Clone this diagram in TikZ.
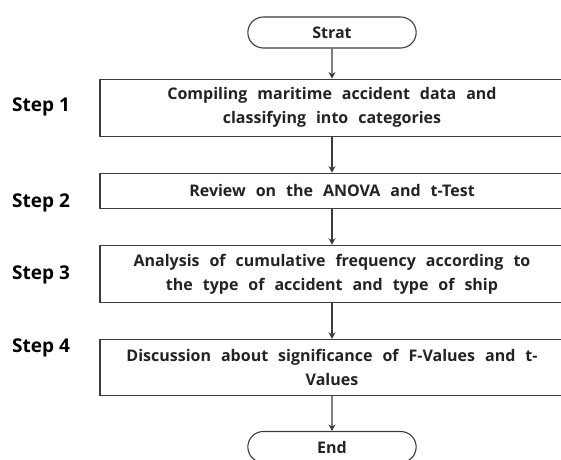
\documentclass[tikz,border=0pt]{standalone}
\usepackage{fontspec}
\setmainfont{Open Sans}
\newfontfamily\boxfont{Open Sans}[WordSpace=2.4]
\usepackage{tikz}
\usetikzlibrary{shapes.geometric, shapes.misc, arrows.meta, positioning, calc}
\definecolor{linegray}{RGB}{60,60,60}
\definecolor{textdark}{RGB}{35,35,35}
\tikzset{
    block/.style={rectangle, draw=linegray, line width=1.1pt, fill=white,
                  text centered, align=center, minimum height=35pt,
                  minimum width=464pt, inner sep=0pt, text=textdark,
                  font=\boxfont\fontsize{16}{24}\selectfont\bfseries},
    tallblock/.style={block, minimum height=57pt},
    arrow/.style={-{Stealth[length=6.5pt,width=7pt]}, line width=1.1pt, color=linegray},
    startend/.style={rounded rectangle, draw=linegray, line width=1.1pt,
                     text centered, minimum height=31pt, minimum width=175pt,
                     text=textdark, font=\fontsize{16}{18}\selectfont\bfseries},
    steplabel/.style={anchor=west, inner sep=0pt, text=black,
                      font=\fontsize{19}{21}\selectfont\bfseries}
}
\begin{document}
\begin{tikzpicture}[node distance=36pt]
    \useasboundingbox (0,0) rectangle (561pt,-459pt);
    \node[startend] (strat) at (332pt,-32.5pt) {Strat};
    \node[tallblock, below=30pt of strat] (compile) {Compiling maritime accident data and\\classifying into categories};
    \node[block, below=of compile] (review) {Review on the ANOVA and t-Test};
    \node[tallblock, below=of review] (cumul) {Analysis of cumulative frequency according to\\the type of accident and type of ship};
    \node[tallblock, minimum height=56pt, below=of cumul] (discuss) {Discussion about significance of F-Values and t-\\Values};
    \node[startend, below=35pt of discuss] (fin) {End};

    \node[steplabel] (step1) at (12pt,-107pt) {Step 1};
    \node[steplabel] (step2) at (12pt,-203pt) {Step 2};
    \node[steplabel] (step3) at (12pt,-275pt) {Step 3};
    \node[steplabel] (step4) at (12pt,-348pt) {Step 4};

    \draw[arrow] (strat) -- (compile);
    \draw[arrow] (compile) -- (review);
    \draw[arrow] (review) -- (cumul);
    \draw[arrow] (cumul) -- (discuss);
    \draw[arrow] (discuss) -- (fin);
\end{tikzpicture}
\end{document}
